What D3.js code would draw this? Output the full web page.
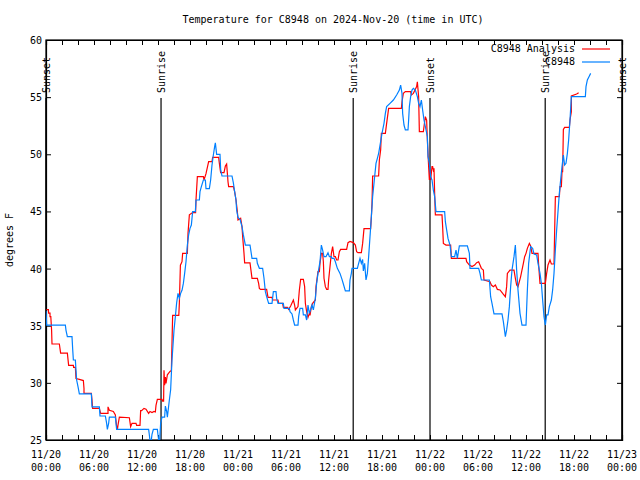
<!DOCTYPE html>
<html><head><meta charset="utf-8">
<script src="https://cdn.jsdelivr.net/npm/d3@7"></script>
<style>body{margin:0;background:#fff}svg{display:block}text{font-family:"DejaVu Sans Mono",monospace;font-size:10px;fill:#000}</style>
</head><body><svg id="c" width="640" height="480"></svg>
<script>
const title = "Temperature for C8948 on 2024-Nov-20 (time in UTC)";
const yLabel = "degrees F";
const yTicks = [25,30,35,40,45,50,55,60];
const xTickHours = [0,6,12,18,24,30,36,42,48,54,60,66,72];
const xTickDays = ["11/20","11/20","11/20","11/20","11/21","11/21","11/21","11/21","11/22","11/22","11/22","11/22","11/23"];
const xTickTimes = ["00:00","06:00","12:00","18:00","00:00","06:00","12:00","18:00","00:00","06:00","12:00","18:00","00:00"];
const sunLabels = ["Sunset","Sunrise","Sunrise","Sunset","Sunrise","Sunset"];
const sunHours = [0,14.38,38.4,48,62.4,72];
const seriesNames = ["C8948 Analysis","C8948"];
const seriesColors = ["#ff0000","#0080ff"];

// hours since 2024-11-20 00:00 UTC, temperature F
const analysis = [[0.05,36.4],[0.3,36.4],[0.33,36.1],[0.5,36.1],[0.5,35.8],[0.6,35.8],[0.7,34.6],[0.75,33.4],[1.67,33.4],[1.75,33.0],[1.83,32.6],[2.67,32.6],[2.75,32.06],[2.83,31.53],[3.42,31.53],[3.45,31.36],[3.67,31.36],[3.75,30.37],[4.17,30.3],[4.67,30.2],[4.75,29.5],[4.75,29.08],[5.67,29.08],[5.75,28.5],[5.83,27.77],[6.67,27.77],[6.75,27.55],[6.83,27.33],[7.75,27.33],[7.75,27.9],[7.92,27.6],[8.42,27.5],[8.67,27.2],[8.83,26.2],[8.92,25.9],[9.0,26.3],[9.17,27.0],[10.42,26.95],[10.58,26.17],[10.75,26.46],[11.25,26.46],[11.33,26.28],[11.75,26.28],[11.83,27.57],[11.95,27.57],[12.25,27.77],[12.5,27.7],[12.83,27.33],[13.0,27.5],[13.25,27.4],[13.5,27.5],[13.67,27.45],[13.75,28.03],[13.92,28.56],[14.5,28.56],[14.58,28.4],[14.7,28.4],[14.75,31.1],[14.83,29.8],[14.92,30.5],[15.0,29.96],[15.17,30.7],[15.5,31.0],[15.67,31.07],[15.83,35.9],[16.6,35.9],[16.67,37.0],[16.8,40.3],[17.0,40.6],[17.08,41.33],[17.67,41.33],[17.75,43.08],[17.92,44.7],[18.33,44.9],[18.7,44.9],[18.75,46.0],[18.92,48.04],[19.67,48.04],[19.75,47.75],[20.0,48.3],[20.33,49.35],[20.75,49.35],[20.83,49.73],[21.58,49.73],[21.67,49.2],[21.83,48.39],[22.25,48.39],[22.42,48.97],[22.58,49.15],[22.67,48.33],[22.75,47.6],[22.83,47.17],[23.42,47.17],[23.58,46.73],[23.75,46.0],[23.92,44.98],[24.0,44.25],[24.33,44.4],[24.5,43.67],[24.58,42.8],[24.75,41.33],[24.83,40.5],[25.5,40.5],[25.67,39.58],[25.75,39.15],[26.42,39.15],[26.58,38.7],[26.67,38.27],[26.83,38.18],[27.58,38.18],[27.75,37.48],[28.25,37.48],[28.33,37.25],[29.0,37.25],[29.08,36.96],[29.58,36.96],[29.67,36.61],[30.17,36.61],[30.33,36.43],[30.58,36.73],[30.92,37.25],[31.08,36.81],[31.17,36.38],[31.5,36.67],[31.67,38.13],[31.83,39.06],[32.17,39.06],[32.33,38.42],[32.42,36.96],[32.58,36.23],[32.75,35.73],[32.92,36.08],[33.0,35.9],[33.17,36.67],[33.33,36.96],[33.67,37.25],[33.75,38.42],[34.0,39.73],[34.17,39.73],[34.25,40.46],[34.42,41.33],[34.58,41.33],[34.67,40.6],[34.75,39.15],[34.92,38.42],[35.08,38.18],[35.25,38.18],[35.33,39.0],[35.5,40.17],[35.67,41.33],[35.83,41.92],[36.0,41.04],[36.17,41.04],[36.33,40.75],[36.5,40.75],[36.67,41.48],[36.83,41.68],[37.58,41.68],[37.75,42.27],[38.0,42.38],[38.42,42.27],[38.67,42.06],[38.83,41.48],[39.0,41.39],[39.42,41.39],[39.58,42.2],[39.75,43.5],[40.58,43.5],[40.67,44.54],[40.75,45.7],[40.83,48.1],[41.58,48.1],[41.67,49.5],[41.83,50.37],[41.92,51.83],[42.42,51.83],[42.58,52.71],[42.83,54.02],[44.42,54.02],[44.5,54.6],[44.67,55.33],[44.92,55.48],[45.58,55.48],[45.67,55.19],[45.92,55.33],[46.17,55.7],[46.33,55.92],[46.42,56.35],[46.5,55.68],[46.58,55.04],[46.67,51.98],[47.17,51.98],[47.25,52.42],[47.42,53.29],[47.58,53.0],[47.67,51.25],[47.75,50.08],[47.83,48.92],[47.92,47.75],[48.0,48.62],[48.08,47.75],[48.25,48.92],[48.33,48.92],[48.42,48.62],[48.5,48.77],[48.58,46.58],[48.67,44.69],[49.5,44.69],[49.58,43.67],[49.67,42.2],[50.0,42.06],[50.58,42.06],[50.67,40.9],[52.5,40.9],[52.58,40.6],[52.92,40.31],[53.25,40.17],[53.58,40.31],[53.83,40.52],[54.08,40.6],[54.25,40.31],[54.42,40.02],[54.67,39.87],[54.75,39.0],[55.5,38.85],[55.67,38.56],[55.92,38.42],[56.17,38.56],[56.42,38.18],[56.75,38.13],[57.08,37.83],[57.42,37.54],[57.58,38.42],[57.67,39.58],[58.0,39.87],[58.5,39.87],[58.67,39.15],[58.83,38.56],[59.0,38.42],[59.33,39.3],[59.67,40.46],[59.83,41.04],[60.0,41.33],[60.17,41.77],[60.42,42.2],[60.58,41.98],[60.75,41.33],[61.5,41.33],[61.58,40.31],[61.75,38.71],[62.42,38.71],[62.58,39.58],[62.75,40.31],[63.0,40.75],[63.17,40.4],[63.5,40.4],[63.58,43.23],[63.67,46.29],[64.17,46.29],[64.25,47.17],[64.42,47.17],[64.5,48.48],[64.58,48.48],[64.67,52.18],[64.83,52.36],[65.42,52.36],[65.5,53.0],[65.67,53.73],[65.67,55.1],[66.33,55.27],[66.58,55.39]];

const observed = [[0.0,36.3],[0.08,35.06],[2.42,35.06],[2.5,34.6],[2.67,34.04],[3.25,34.04],[3.33,33.0],[3.42,32.0],[3.67,32.0],[3.75,31.1],[3.83,30.25],[4.0,29.67],[4.17,29.03],[5.67,29.03],[5.75,27.9],[6.67,27.9],[6.75,27.1],[7.42,27.1],[7.58,26.46],[7.67,25.93],[7.83,26.46],[7.92,27.0],[8.67,27.0],[8.75,26.46],[8.83,25.93],[12.83,25.93],[12.92,25.44],[13.08,24.5],[13.25,25.5],[13.42,25.93],[13.92,25.93],[14.0,25.44],[14.17,24.5],[14.33,26.46],[14.5,27.0],[14.83,27.0],[14.92,27.97],[15.08,27.5],[15.17,27.0],[15.42,28.5],[15.58,29.4],[15.75,32.0],[16.0,34.6],[16.17,35.8],[16.33,37.0],[16.5,37.83],[16.67,37.4],[16.83,37.83],[17.0,38.1],[17.17,38.7],[17.33,39.58],[17.5,40.6],[17.67,42.06],[17.83,42.94],[18.0,43.52],[18.17,43.81],[18.33,44.98],[18.67,44.98],[18.75,46.0],[19.17,46.0],[19.25,46.73],[19.42,47.17],[19.67,47.75],[19.92,47.75],[20.0,47.0],[20.42,47.0],[20.58,47.75],[20.75,49.06],[20.92,49.94],[21.08,50.67],[21.17,51.0],[21.33,50.0],[21.75,50.0],[21.83,48.68],[22.0,48.1],[23.25,48.1],[23.42,47.5],[23.58,46.73],[23.75,46.0],[23.83,45.12],[24.0,44.48],[24.25,44.3],[24.5,43.67],[24.67,42.94],[24.92,42.06],[25.5,42.06],[25.75,40.9],[26.33,40.9],[26.42,40.46],[26.67,40.02],[27.08,40.02],[27.25,39.15],[27.42,37.98],[27.58,37.54],[27.83,36.96],[28.25,36.96],[28.42,37.98],[28.75,37.98],[28.83,37.4],[29.0,36.96],[29.67,36.96],[29.75,36.52],[30.42,36.52],[30.5,36.23],[30.75,36.03],[30.92,35.5],[31.08,35.06],[31.5,35.06],[31.58,35.79],[31.75,36.52],[32.08,36.52],[32.17,35.94],[32.42,35.94],[32.58,35.5],[32.75,36.81],[32.92,36.08],[33.08,36.4],[33.25,36.81],[33.42,36.38],[33.67,37.4],[33.83,38.71],[34.0,39.58],[34.25,40.6],[34.42,42.06],[34.58,41.62],[34.75,41.04],[35.0,41.04],[35.25,41.39],[35.42,41.04],[35.67,41.04],[35.75,40.9],[36.0,40.9],[36.17,40.6],[36.42,40.02],[36.75,39.58],[37.0,39.06],[37.17,38.65],[37.42,38.04],[37.92,38.04],[38.0,39.0],[38.17,39.58],[38.25,40.02],[38.92,40.02],[39.08,40.46],[39.25,40.9],[39.42,40.46],[39.58,40.8],[39.67,39.8],[39.83,40.46],[40.0,39.0],[40.17,39.58],[40.33,41.04],[40.5,42.79],[40.67,44.54],[40.83,46.29],[41.08,48.04],[41.25,49.2],[41.42,49.65],[41.58,50.08],[41.83,51.1],[42.0,51.83],[42.25,52.71],[42.42,53.58],[42.58,54.17],[43.0,54.46],[43.42,54.75],[43.83,55.19],[44.17,55.62],[44.33,56.06],[44.5,55.33],[44.58,53.58],[44.75,52.56],[44.92,52.13],[45.25,52.13],[45.33,53.0],[45.42,54.17],[45.58,55.04],[45.75,55.62],[45.92,55.77],[46.17,55.62],[46.42,55.04],[46.58,54.46],[46.75,54.17],[46.92,54.75],[47.08,53.87],[47.25,53.0],[47.5,52.13],[47.67,51.54],[47.75,49.79],[47.92,49.21],[48.08,48.04],[48.25,47.75],[48.42,46.87],[48.58,46.29],[48.75,44.98],[49.83,44.98],[49.92,44.1],[50.08,43.38],[50.25,42.64],[50.5,42.06],[50.67,41.04],[51.08,41.04],[51.25,41.62],[51.42,40.9],[51.67,41.98],[52.67,41.98],[52.92,41.33],[53.0,40.02],[54.08,40.02],[54.25,39.58],[54.42,39.0],[55.42,39.0],[55.58,37.54],[55.75,36.96],[56.0,36.03],[57.0,36.03],[57.17,35.35],[57.42,34.04],[57.58,34.63],[57.75,35.5],[57.92,36.67],[58.08,38.42],[58.25,39.87],[58.5,41.04],[58.67,42.06],[58.83,39.87],[59.0,38.13],[59.25,36.08],[59.5,35.06],[60.0,35.06],[60.17,38.13],[60.33,40.46],[60.58,41.92],[60.83,41.77],[61.0,41.27],[61.33,41.19],[61.5,40.46],[61.75,39.58],[61.92,38.71],[62.08,37.25],[62.25,35.79],[62.42,35.06],[62.58,35.94],[62.75,35.94],[62.92,36.67],[63.17,37.25],[63.33,38.13],[63.5,39.58],[63.67,41.62],[63.83,43.38],[64.0,45.0],[64.17,46.6],[64.33,47.75],[64.5,48.92],[64.67,49.94],[64.83,49.06],[65.0,49.21],[65.17,50.08],[65.33,51.25],[65.5,53.0],[65.67,55.04],[67.42,55.04],[67.5,55.92],[67.67,56.5],[67.92,56.85],[68.08,57.08]];

const svg = d3.select("#c");
const L = 46, R = 622, T = 40, B = 440;
const x = d3.scaleLinear().domain([0,72]).range([L,R]);
const y = d3.scaleLinear().domain([25,60]).range([B,T]);

svg.append("text").attr("x",333).attr("y",23).attr("text-anchor","middle").text(title);

svg.append("defs").append("clipPath").attr("id","clip").append("rect")
  .attr("x",L).attr("y",T).attr("width",R-L).attr("height",B-T);

// axes with inward ticks
const minorHours = d3.range(0,73,2);
const axB = d3.axisBottom(x).tickValues(minorHours).tickSize(-5).tickFormat("");
const axT = d3.axisTop(x).tickValues(minorHours).tickSize(-5).tickFormat("");
const axL = d3.axisLeft(y).tickValues(yTicks).tickSize(-5).tickFormat("");
const axR = d3.axisRight(y).tickValues(yTicks).tickSize(-5).tickFormat("");
[[axB,`translate(0,${B})`],[axT,`translate(0,${T})`],[axL,`translate(${L},0)`],[axR,`translate(${R},0)`]].forEach(([a,t])=>{
  const g = svg.append("g").attr("transform",t).call(a);
  g.select(".domain").attr("stroke","#000").attr("stroke-width",1.2);
  g.selectAll(".tick line").attr("stroke","#000");
});
svg.append("rect").attr("x",L).attr("y",T).attr("width",R-L).attr("height",B-T)
  .attr("fill","none").attr("stroke","#000").attr("stroke-width",1.2);

// tick labels
yTicks.forEach(v=>{
  svg.append("text").attr("x",L-4).attr("y",y(v)+4).attr("text-anchor","end").text(v);
});
xTickHours.forEach((h,i)=>{
  svg.append("text").attr("x",x(h)).attr("y",B+18).attr("text-anchor","middle").text(xTickDays[i]);
  svg.append("text").attr("x",x(h)).attr("y",B+31).attr("text-anchor","middle").text(xTickTimes[i]);
});
svg.append("text").attr("transform",`translate(13,${(T+B)/2}) rotate(-90)`)
  .attr("text-anchor","middle").text(yLabel);

// sunrise/sunset
sunHours.forEach((h,i)=>{
  svg.append("line").attr("x1",x(h)).attr("x2",x(h)).attr("y1",98).attr("y2",B)
    .attr("stroke","#000").attr("stroke-width",1.2);
  svg.append("text").attr("transform",`translate(${x(h)+3.5},93) rotate(-90)`)
    .attr("text-anchor","start").text(sunLabels[i]);
});

// series
const line = d3.line().x(d=>x(d[0])).y(d=>y(d[1]));
const plot = svg.append("g").attr("clip-path","url(#clip)");
[analysis, observed].forEach((data,i)=>{
  plot.append("path").datum(data).attr("d",line).attr("fill","none")
    .attr("stroke",seriesColors[i]).attr("stroke-width",1.2).attr("stroke-linejoin","miter");
});

// legend
seriesNames.forEach((n,i)=>{
  const yy = 52 + i*13;
  svg.append("text").attr("x",575).attr("y",yy).attr("text-anchor","end").text(n);
  svg.append("line").attr("x1",582).attr("x2",610).attr("y1",yy-3).attr("y2",yy-3)
    .attr("stroke",seriesColors[i]).attr("stroke-width",1.2);
});
</script></body></html>
